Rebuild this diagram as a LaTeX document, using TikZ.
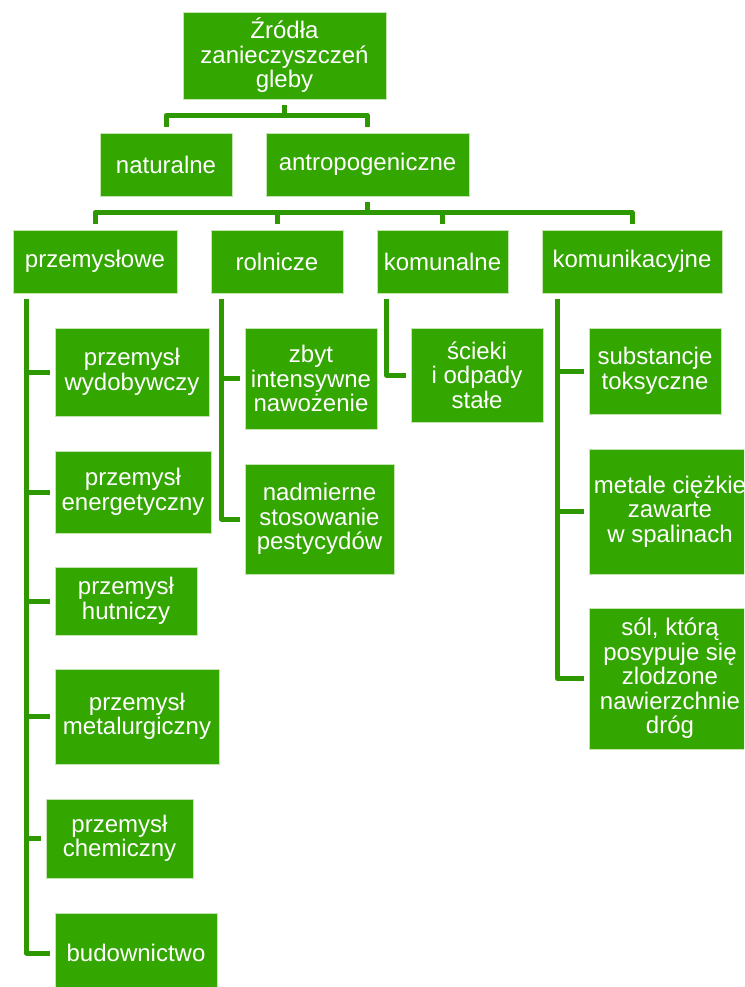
\documentclass[tikz,border=0pt]{standalone}
\usepackage{fontspec}
\setmainfont{Liberation Sans}
\definecolor{boxgreen}{RGB}{51,166,0}
\definecolor{linegreen}{RGB}{46,152,0}
\definecolor{boxedge}{RGB}{196,228,178}
\begin{document}
\begin{tikzpicture}[x=1pt,y=-1pt,
  box/.style={draw=boxedge,line width=0.8pt,fill=boxgreen,text=white,
    inner sep=0pt,align=center,font=\fontsize{24}{24.5}\selectfont},
  conn/.style={draw=linegreen,line width=5pt,line join=round,
    shorten <=6pt,shorten >=6pt},
  leaf/.style={conn,shorten >=5pt}]
\useasboundingbox (0,0) rectangle (744,987);
\clip (0,0) rectangle (744,987);

% root and first level
\node[box,minimum width=203pt,minimum height=87pt] (root) at (284.5,55.5) {Źródła\\zanieczyszczeń\\gleby};
\node[box,minimum width=132pt,minimum height=63pt] (nat) at (166,164.5) {naturalne};
\node[box,minimum width=203pt,minimum height=63pt] (ant) at (367.5,164.5) {antropogeniczne};

% second level
\node[box,minimum width=164pt,minimum height=63pt] (prz) at (95,261.5) {przemysłowe};
\node[box,minimum width=132pt,minimum height=63pt] (rol) at (277,261.5) {rolnicze};
\node[box,minimum width=131pt,minimum height=63pt] (kom) at (442.5,261.5) {komunalne};
\node[box,minimum width=180pt,minimum height=63pt] (kmk) at (632,261.5) {komunikacyjne};

% industry
\node[box,minimum width=154pt,minimum height=88pt] (wyd) at (132,372) {przemysł\\wydobywczy};
\node[box,minimum width=156pt,minimum height=82pt] (ene) at (133,492) {przemysł\\energetyczny};
\node[box,minimum width=142pt,minimum height=68pt] (hut) at (126,601) {przemysł\\hutniczy};
\node[box,minimum width=164pt,minimum height=95pt] (met) at (137,716.5) {przemysł\\metalurgiczny};
\node[box,minimum width=147pt,minimum height=79pt] (che) at (119.5,838.5) {przemysł\\chemiczny};
\node[box,minimum width=162pt,minimum height=80pt] (bud) at (136,953) {budownictwo};

% agriculture
\node[box,minimum width=132pt,minimum height=101pt] (zby) at (311,378.5) {zbyt\\intensywne\\nawożenie};
\node[box,minimum width=149pt,minimum height=110pt] (nad) at (319.5,519) {nadmierne\\stosowanie\\pestycydów};

% municipal
\node[box,minimum width=132pt,minimum height=94pt] (sci) at (477,375) {ścieki\\i odpady\\stałe};

% transport
\node[box,minimum width=132pt,minimum height=86pt] (sub) at (655,371) {substancje\\toksyczne};
\node[box,minimum width=162pt,minimum height=125pt] (mcz) at (670,511.5) {metale ciężkie\\zawarte\\w spalinach};
\node[box,minimum width=162pt,minimum height=141pt] (sol) at (670,678.5) {sól, którą\\posypuje się\\zlodzone\\nawierzchnie\\dróg};

% connectors: root
\draw[conn] (root.south) -- ++(0,16) -| (nat.north);
\draw[conn] (root.south) -- ++(0,16) -| (ant.north);

% connectors: anthropogenic branches
\foreach \c in {prz,rol,kom,kmk}
  \draw[conn] (ant.south) -- ++(0,16) -| (\c.north);

% connectors: leaves
\foreach \c in {wyd,ene,hut,met,che,bud}
  \draw[leaf] ([xshift=14pt]prz.south west) |- (\c.west);
\foreach \c in {zby,nad}
  \draw[leaf] ([xshift=11pt]rol.south west) |- (\c.west);
\draw[leaf] ([xshift=10pt]kom.south west) |- (sci.west);
\foreach \c in {sub,mcz,sol}
  \draw[leaf] ([xshift=16pt]kmk.south west) |- (\c.west);
\end{tikzpicture}
\end{document}
